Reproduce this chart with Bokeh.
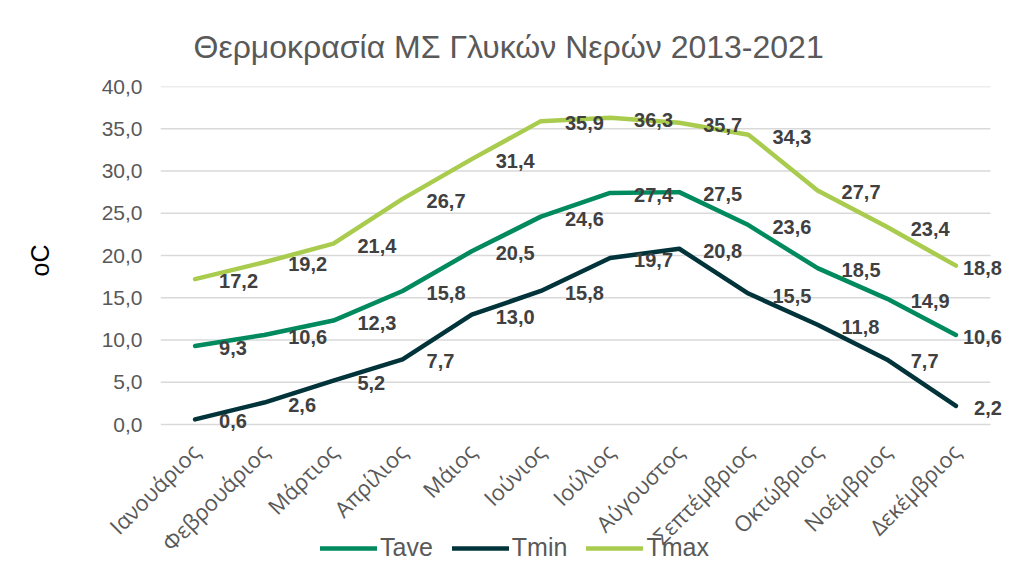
import math
from bokeh.plotting import figure
from bokeh.layouts import column
from bokeh.models import (ColumnDataSource, LabelSet, Legend, LegendItem,
                          CustomJSTickFormatter, FixedTicker, Range1d, Title)
from bokeh.core.properties import value
from bokeh.embed import file_html
from bokeh.resources import INLINE

months = ["Ιανουάριος", "Φεβρουάριος", "Μάρτιος", "Απρίλιος", "Μάιος", "Ιούνιος",
          "Ιούλιος", "Αύγουστος", "Σεπτέμβριος", "Οκτώβριος", "Νοέμβριος", "Δεκέμβριος"]
tave = [9.3, 10.6, 12.3, 15.8, 20.5, 24.6, 27.4, 27.5, 23.6, 18.5, 14.9, 10.6]
tmin = [0.6, 2.6, 5.2, 7.7, 13.0, 15.8, 19.7, 20.8, 15.5, 11.8, 7.7, 2.2]
tmax = [17.2, 19.2, 21.4, 26.7, 31.4, 35.9, 36.3, 35.7, 34.3, 27.7, 23.4, 18.8]
yticks = [0, 5, 10, 15, 20, 25, 30, 35, 40]

title_text = "Θερμοκρασία ΜΣ Γλυκών Νερών 2013-2021"
ylabel = "oC"

colors = {"Tave": "#008A5E", "Tmin": "#00343A", "Tmax": "#A9CC4F"}
series = {"Tave": tave, "Tmin": tmin, "Tmax": tmax}

def fmt(v):
    return f"{v:.1f}".replace(".", ",")

W, H = 1008, 572
plot_top, plot_bottom = 86, 424          # pixel rows of 40 and 0 on the value axis
extra_below = 10                         # room under 0 so the low labels are not clipped
left, right = 160, 2
top, bottom = plot_top, H - plot_bottom - extra_below
frame_w = W - left - right
px_per_cat = 830 / 12.0
px_per_unit = (plot_bottom - plot_top) / 40.0
idx = list(range(len(months)))
x_end = -0.5 + frame_w / px_per_cat

p = figure(width=W, height=H, x_range=Range1d(-0.5, x_end),
           y_range=Range1d(-extra_below / px_per_unit, 40),
           output_backend="svg", toolbar_location=None,
           min_border_left=left, min_border_right=right, min_border_top=top,
           min_border_bottom=bottom)
p.outline_line_color = None
p.background_fill_color = "white"
p.border_fill_color = "white"

p.title = Title(text=title_text, align="left", offset=33, standoff=43,
                text_font="Liberation Sans", text_font_size="32px",
                text_font_style="normal", text_color="#595959")

# horizontal gridlines spanning the category area only
p.xgrid.grid_line_color = None
p.ygrid.grid_line_color = None
p.segment(x0=[-0.5] * len(yticks), x1=[len(months) - 0.5] * len(yticks), y0=yticks, y1=yticks,
          line_color="#D9D9D9", line_width=1.5)

p.yaxis.ticker = FixedTicker(ticks=yticks)
p.yaxis.formatter = CustomJSTickFormatter(code="return tick.toFixed(1).replace('.', ',');")
p.yaxis.axis_line_color = None
p.yaxis.major_tick_line_color = None
p.yaxis.minor_tick_line_color = None
p.yaxis.major_tick_out = 0
p.yaxis.major_label_standoff = 18
p.yaxis.major_label_text_font = "Liberation Sans"
p.yaxis.major_label_text_font_size = "21px"
p.yaxis.major_label_text_color = "#595959"
p.yaxis.axis_label = ylabel
p.yaxis.axis_label_text_font = "Liberation Sans"
p.yaxis.axis_label_text_font_size = "25px"
p.yaxis.axis_label_text_font_style = "normal"
p.yaxis.axis_label_text_color = "#000000"
p.yaxis.axis_label_standoff = 45

p.xaxis.ticker = FixedTicker(ticks=idx)
p.xaxis.formatter = CustomJSTickFormatter(args=dict(labels=months),
                                          code="return labels[Math.round(tick)];")
p.xaxis.axis_line_color = None
p.xaxis.major_tick_line_color = None
p.xaxis.minor_tick_line_color = None
p.xaxis.major_tick_out = 0
p.xaxis.major_label_orientation = math.pi / 4
p.xaxis.major_label_standoff = 13
p.xaxis.major_label_text_font = "Open Sans"
p.xaxis.major_label_text_font_size = "22px"
p.xaxis.major_label_text_color = "#595959"

for name, vals in series.items():
    src = ColumnDataSource(dict(x=idx, v=vals))
    p.line(x="x", y="v", source=src, line_color=colors[name], line_width=4.5,
           line_join="round", line_cap="round")
    main = ColumnDataSource(dict(x=idx[:-1], v=vals[:-1], t=[fmt(x) for x in vals[:-1]]))
    last = ColumnDataSource(dict(x=idx[-1:], v=vals[-1:], t=[fmt(x) for x in vals[-1:]]))
    for s, align, xo in ((main, "left", 24), (last, "right", 46)):
        p.add_layout(LabelSet(x="x", y="v", text="t", source=s, x_offset=xo, y_offset=-2,
                              text_align=align, text_baseline="middle",
                              text_font=value("Liberation Sans"), text_font_size=value("20px"),
                              text_font_style="bold", text_color="#404040"))

# legend strip, pulled up so it overlaps the bottom of the category labels as in the reference
p2 = figure(width=W, height=40, output_backend="svg", toolbar_location=None,
            x_axis_location=None, y_axis_location=None, min_border=0,
            x_range=Range1d(0, 1), y_range=Range1d(0, 1))
p2.margin = (526 - H, 0, 0, 0)
p2.outline_line_color = None
p2.background_fill_alpha = 0
p2.border_fill_alpha = 0
p2.grid.visible = False
items = []
for name in series:
    # the strip's ranges keep these key lines out of view; only their legend glyphs show
    r = p2.line(x=[2, 3], y=[2, 2], line_color=colors[name], line_width=4.5, line_cap="round")
    items.append(LegendItem(label=name, renderers=[r]))
legend = Legend(items=items, orientation="horizontal", location=(160, 4),
                border_line_color=None, background_fill_alpha=0,
                label_text_font="Liberation Sans", label_text_font_size="25px",
                label_text_color="#595959", glyph_width=57, glyph_height=20,
                label_standoff=3, spacing=19, padding=0, margin=0)
p2.add_layout(legend)

layout = column(p, p2, spacing=0)
open("out.html", "w").write(file_html(layout, INLINE))
